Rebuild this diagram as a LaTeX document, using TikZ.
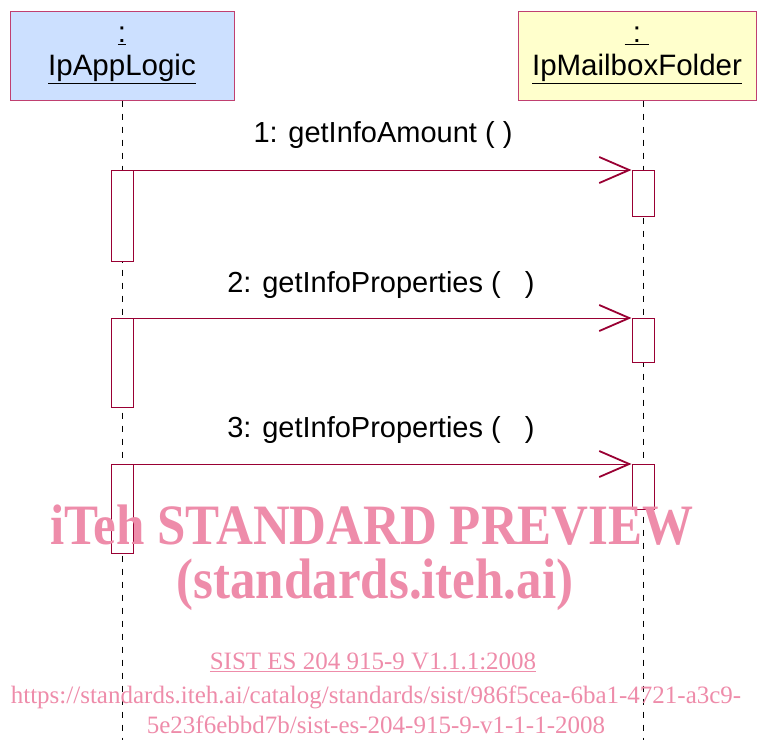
\documentclass[tikz,border=0pt]{standalone}
\usepackage{fontspec}
\setmainfont{Liberation Sans}
\newfontfamily\wmfont{Liberation Serif}
\usetikzlibrary{positioning}
\usetikzlibrary{arrows.meta}

\definecolor{hdrblue}{RGB}{204,224,255}
\definecolor{hdryellow}{RGB}{255,255,204}
\definecolor{hdrborder}{RGB}{192,64,112}
\definecolor{msgred}{RGB}{153,0,51}
\definecolor{wmpink}{RGB}{238,140,170}

\tikzset{
  header/.style={rectangle,draw=hdrborder,line width=1pt,minimum height=89pt,
                 align=center,font=\fontsize{29.5}{33}\selectfont},
  lifeline/.style={draw=black,line width=0.8pt,dash pattern=on 6pt off 7pt},
  activation/.style={rectangle,draw=msgred,fill=white,line width=1pt,
                     minimum width=22pt,anchor=north,inner sep=0pt},
  message/.style={draw=msgred,line width=1pt,
                  -{Straight Barb[length=30pt,width=26pt,line width=1.8pt]}},
  msglabel/.style={font=\fontsize{29}{33}\selectfont},
  watermark/.style={text=wmpink,align=center}
}

\begin{document}
\begin{tikzpicture}[x=1pt,y=-1pt]
\useasboundingbox (0,0) rectangle (757,740);

% objects
\node at (122,55.5) [header,fill=hdrblue,minimum width=224pt] (applogic)
      {\underline{:}\\ \underline{IpAppLogic}};
\node at (637,55.5) [header,fill=hdryellow,minimum width=238pt] (folder)
      {\underline{\ :\ }\\ \underline{IpMailboxFolder}};

\coordinate (applogicEnd) at (122,740);
\coordinate (folderEnd) at (643,740);

\draw[lifeline] (applogic.south) -- (applogicEnd);
\draw[lifeline] (folder.south -| folderEnd) -- (folderEnd);

% activations
\node at (122,170) [activation,minimum height=91pt] (act1L) {};
\node at (643,170) [activation,minimum height=46pt] (act1R) {};
\node at (122,318) [activation,minimum height=89pt] (act2L) {};
\node at (643,318) [activation,minimum height=44pt] (act2R) {};
\node at (122,464) [activation,minimum height=89pt] (act3L) {};
\node at (643,464) [activation,minimum height=45pt] (act3R) {};

% messages
\node at (383,135) [msglabel] (msg1) {1: getInfoAmount ( )};
\node at (381,285) [msglabel] (msg2) {2: getInfoProperties (\ \ \ )};
\node at (381,430) [msglabel] (msg3) {3: getInfoProperties (\ \ \ )};

\draw[message] (act1L.north east) -- (act1R.north west);
\draw[message] (act2L.north east) -- (act2R.north west);
\draw[message] (act3L.north east) -- (act3R.north west);

% watermark
\node at (372,525) [watermark,font=\wmfont\bfseries\fontsize{51}{60}\selectfont] (wm1)
      {\scalebox{1}[1.12]{iTeh STANDARD PREVIEW}};
\node at (375,585) [watermark,font=\wmfont\bfseries\fontsize{51}{60}\selectfont] (wm2)
      {\scalebox{1}[1.12]{(standards.iteh.ai)}};
\node at (373,662) [watermark,font=\wmfont\fontsize{25}{30}\selectfont] (wm3)
      {\underline{SIST ES 204 915-9 V1.1.1:2008}};
\node at (376,710) [watermark,font=\wmfont\fontsize{25}{30}\selectfont] (wm4)
      {https://standards.iteh.ai/catalog/standards/sist/986f5cea-6ba1-4721-a3c9-\\
       5e23f6ebbd7b/sist-es-204-915-9-v1-1-1-2008};
\end{tikzpicture}
\end{document}
